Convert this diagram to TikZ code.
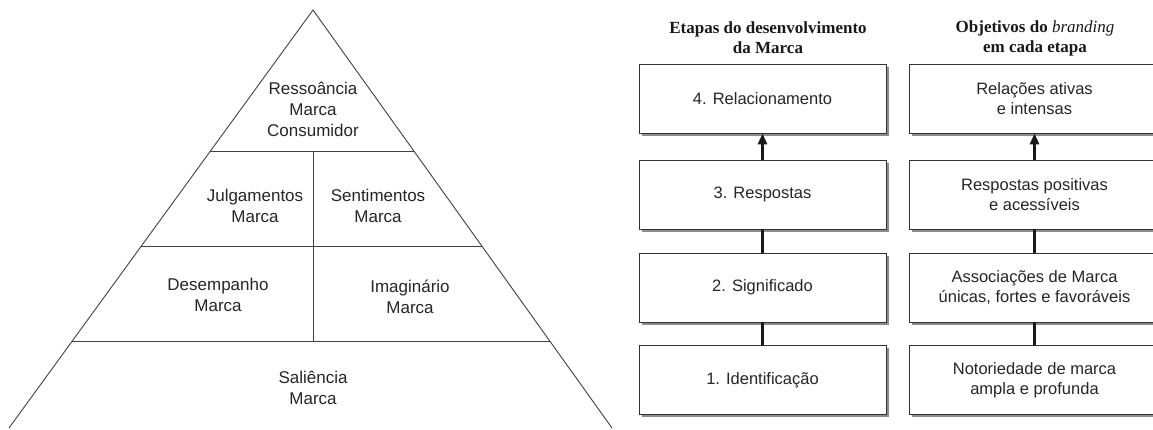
\documentclass[tikz,border=0pt]{standalone}
\usepackage{fontspec}
\setmainfont{Liberation Sans}
\newfontfamily\headfont{Liberation Serif}
\usetikzlibrary{arrows.meta,shadows,calc}
\begin{document}
\begin{tikzpicture}[x=1pt,y=-1pt,
  pyr/.style={draw=black!75, line width=0.9pt},
  pyrtext/.style={align=center, font=\fontsize{17}{21}\selectfont, text=black!85, inner sep=0pt},
  stagebox/.style={draw=black!80, line width=0.8pt, fill=white, minimum height=69pt, align=center,
    font=\fontsize{16.5}{20}\selectfont, text=black!85, inner sep=0pt,
    drop shadow={shadow xshift=2.5pt, shadow yshift=-2.5pt, fill=black!45, opacity=1}},
  lbox/.style={stagebox, minimum width=247pt},
  rbox/.style={stagebox, minimum width=251pt},
  heading/.style={align=center, font=\headfont\bfseries\fontsize{17}{20}\selectfont, text=black!90, inner sep=0pt},
  link/.style={line width=3pt, draw=black!90},
  uparrow/.style={link, -{Triangle[length=11pt,width=9pt]}}
]
\useasboundingbox (0,0) rectangle (1153,429);
\clip (0,0) rectangle (1153,429);
\fill[white] (0,0) rectangle (1153,429);

% ---------- pyramid ----------
\coordinate (apex) at (313,10);
\coordinate (bl) at (9,428);
\coordinate (br) at (612,428);
\coordinate (l1) at ($(apex)!0.3373!(bl)$);
\coordinate (r1) at ($(apex)!0.3373!(br)$);
\coordinate (l2) at ($(apex)!0.5646!(bl)$);
\coordinate (r2) at ($(apex)!0.5646!(br)$);
\coordinate (l3) at ($(apex)!0.7919!(bl)$);
\coordinate (r3) at ($(apex)!0.7919!(br)$);
\coordinate (m1) at (313,151);
\coordinate (m3) at (313,341);
\draw[pyr] (bl) -- (apex) -- (br);
\draw[pyr] (l1) -- (r1);
\draw[pyr] (l2) -- (r2);
\draw[pyr] (l3) -- (r3);
\draw[pyr] (m1) -- (m3);

\node[pyrtext] (res) at (313,109) {Ressoância\\Marca\\Consumidor};
\node[pyrtext] (jul) at (255,205.5) {Julgamentos\\Marca};
\node[pyrtext] (sen) at (378,205.5) {Sentimentos\\Marca};
\node[pyrtext] (des) at (218,295) {Desempanho\\Marca};
\node[pyrtext] (ima) at (410,297) {Imaginário\\Marca};
\node[pyrtext] (sal) at (313,388) {Saliência\\Marca};

% ---------- headings ----------
\node[heading] (h1) at (768,38) {Etapas do desenvolvimento\\da Marca};
\node[heading] (h2) at (1035,38) {Objetivos do {\mdseries\itshape branding}\\em cada etapa};

% ---------- stage boxes ----------
\node[lbox] (s4) at (762.5,98.5) {4. Relacionamento};
\node[lbox] (s3) at (762.5,194.5) {3. Respostas};
\node[lbox] (s2) at (762.5,287.5) {2. Significado};
\node[lbox] (s1) at (762.5,380) {1. Identificação};

\node[rbox] (o4) at (1034.5,98.5) {Relações ativas\\e intensas};
\node[rbox] (o3) at (1034.5,194.5) {Respostas positivas\\e acessíveis};
\node[rbox] (o2) at (1034.5,287.5) {Associações de Marca\\únicas, fortes e favoráveis};
\node[rbox] (o1) at (1034.5,380) {Notoriedade de marca\\ampla e profunda};

% ---------- connectors ----------
\draw[uparrow] (s3.north) -- (s4.south);
\draw[link] (s2.north) -- (s3.south);
\draw[link] (s1.north) -- (s2.south);
\draw[uparrow] (o3.north) -- (o4.south);
\draw[link] (o2.north) -- (o3.south);
\draw[link] (o1.north) -- (o2.south);
\end{tikzpicture}
\end{document}
